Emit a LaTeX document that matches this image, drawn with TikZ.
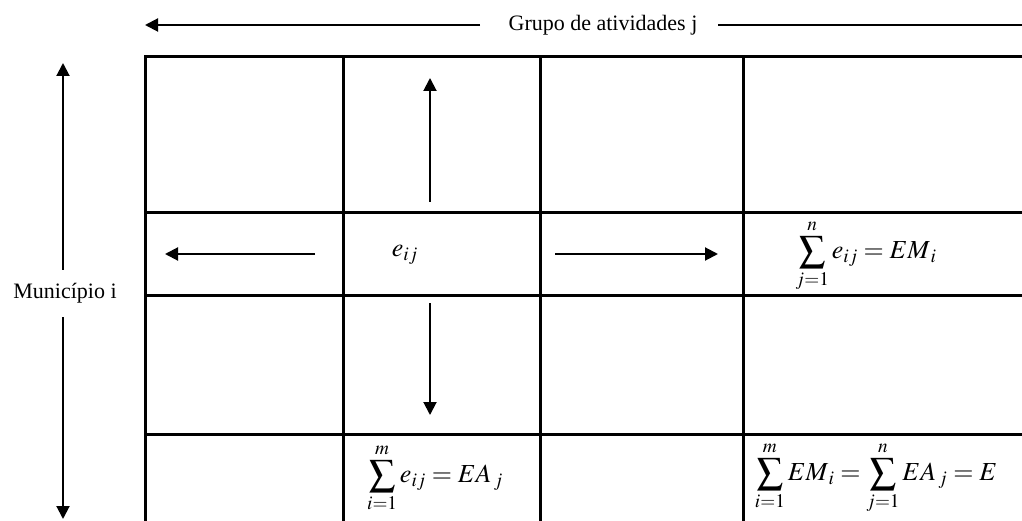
\documentclass[tikz,border=0pt]{standalone}
\usepackage{mathptmx}
\usepackage[no-math]{fontspec}
\setmainfont{Liberation Serif}
\usetikzlibrary{arrows.meta}
\tikzset{
  grid/.style={line width=3pt, line cap=rect},
  arr/.style={line width=2pt, -{Triangle[length=13pt,width=13pt]}},
  plain/.style={line width=2pt},
  lbl/.style={inner sep=0pt, font=\fontsize{22}{26}\selectfont},
  frm/.style={inner sep=0pt, font=\fontsize{26}{30}\selectfont},
}
\newcommand{\bigsum}{\mathop{\vphantom{\sum}\mathchoice{\scalebox{1.12}{$\displaystyle\sum$}}{\sum}{\sum}{\sum}}\limits}
\begin{document}
\begin{tikzpicture}[x=1pt,y=-1pt]
\useasboundingbox (0,0) rectangle (1022,521);
% grid
\draw[grid] (145,521) -- (145,57) -- (1022,57);
\draw[grid] (343,57) -- (343,521);
\draw[grid] (540,57) -- (540,521);
\draw[grid] (743,57) -- (743,521);
\draw[grid] (145,213) -- (1022,213);
\draw[grid] (145,295) -- (1022,295);
\draw[grid] (145,434) -- (1022,434);
% top label and arrow
\node[lbl] (grupo) at (603,25) {Grupo de atividades j};
\coordinate (gl) at (480,25);
\coordinate (gtip) at (145,25);
\coordinate (gr) at (718,25);
\coordinate (gend) at (1024,25);
\draw[arr] (gl) -- (gtip);
\draw[plain] (gr) -- (gend);
% left label and arrows
\node[lbl] (mun) at (65,293) {Município i};
\coordinate (mu) at (63,270);
\coordinate (mutip) at (63,63);
\coordinate (md) at (63,317);
\coordinate (mdtip) at (63,519);
\draw[arr] (mu) -- (mutip);
\draw[arr] (md) -- (mdtip);
% center cell
\node[frm] (eij) at (405,255) {$e_{ij}$};
\coordinate (ua) at (430,202);
\coordinate (ut) at (430,78);
\coordinate (da) at (430,303);
\coordinate (dt) at (430,415);
\coordinate (la) at (315,254);
\coordinate (lt) at (165,254);
\coordinate (ra) at (555,254);
\coordinate (rt) at (718,254);
\draw[arr] (ua) -- (ut);
\draw[arr] (da) -- (dt);
\draw[arr] (la) -- (lt);
\draw[arr] (ra) -- (rt);
% formulas
\node[frm] (emi) at (866,256) {$\displaystyle\sum_{j=1}^{n} e_{ij} = EM_{\,i}$};
\node[frm] (eaj) at (435,478) {$\displaystyle\sum_{i=1}^{m} e_{ij} = EA_{\,j}$};
\node[frm] (tot) at (876,478) {$\displaystyle\sum_{i=1}^{m} EM_{\,i} = \sum_{j=1}^{n} EA_{\,j} = E$};
\end{tikzpicture}
\end{document}
